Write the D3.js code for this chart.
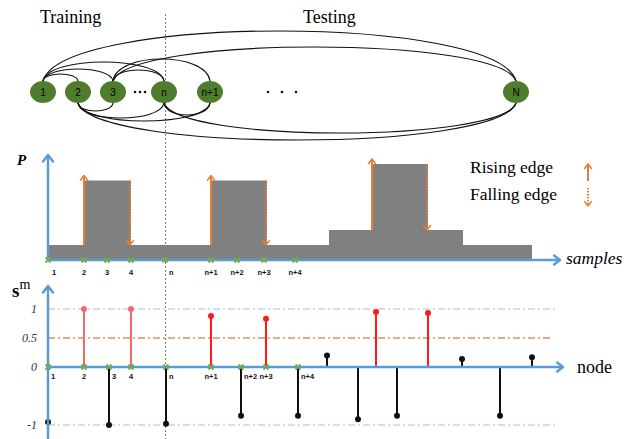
<!DOCTYPE html>
<html>
<head>
<meta charset="utf-8">
<script src="https://cdn.jsdelivr.net/npm/d3@7"></script>
<style>
  body { margin: 0; background: #fff; }
  svg { display: block; }
  .serif { font-family: "Liberation Serif", "DejaVu Serif", serif; }
  .sans { font-family: "Liberation Sans", Arial, sans-serif; }
</style>
</head>
<body>
<script>
// ---- data ----
// graph nodes, position along the sample axis
var nodeLabels = ["1", "2", "3", "n", "n+1", "N"];
var nodePos = [-1, 6, 13, 23.2, 32.4, 93.6];
// arcs [from, to, bulge] drawn above / below the nodes
var arcsAbove = [[0, 1, 7], [0, 2, 12], [0, 3, 19], [2, 3, 11], [2, 4, 22], [2, 5, 34], [0, 5, 50]];
var arcsBelow = [[1, 2, 8], [1, 3, 15], [1, 4, 18], [3, 4, 12], [3, 5, 30], [1, 5, 37]];
var gapDots = [18.4, 46.8];

// P panel
var sampleLabels = ["1", "2", "3", "4", "n", "n+1", "n+2", "n+3", "n+4"];
var sampleTicks = [0, 7.2, 11.8, 16.6, 23.4, 32.6, 37.8, 43.2, 49.4];
var stepEdges = [0, 7.2, 16.6, 32.6, 43.8, 56.2, 64.8, 76, 83, 96.8];
var stepLevels = [1, 5.3, 1, 5.3, 1, 2, 6.4, 2, 1];

// s^m panel
var stemPos = [0, 7.2, 12.2, 16.6, 23.6, 32.6, 38.6, 43.6, 50, 55.8, 62, 65.6, 69.8, 76, 82.8, 90.4, 96.8];
var stemVal = [-0.95, 1, -1, 1, -0.98, 0.88, -0.84, 0.83, -0.84, 0.2, -0.9, 0.95, -0.84, 0.93, 0.14, -0.84, 0.17];
var smTicks = [1, 0.5, 0, -1];
var dividerPos = 23.5;

// ---- drawing ----
var width = 636, height = 439;
var blue = "#5b9bd5", orange = "#ed7d31", green = "#4e7d2d", gray = "#808080";

var svg = d3.select("body").append("svg")
    .attr("width", width).attr("height", height);

var xs = d3.scaleLinear().domain([0, 100]).range([48, 548]);
var yP = d3.scaleLinear().domain([0, 7]).range([260, 155]);
var yS = d3.scaleLinear().domain([-1, 1]).range([425, 309]);

function chevron(g, x, y, dir, color, w, s) {
  // dir: -1 up, 1 down, 2 right
  var pts;
  if (dir === 2) pts = [[x - s * 1.3, y - s], [x, y], [x - s * 1.3, y + s]];
  else pts = [[x - s, y - dir * s * 1.3], [x, y], [x + s, y - dir * s * 1.3]];
  g.append("polyline").attr("points", pts.join(" "))
    .attr("fill", "none").attr("stroke", color).attr("stroke-width", w)
    .attr("stroke-linejoin", "round").attr("stroke-linecap", "round");
}

// divider
svg.append("line")
    .attr("x1", xs(dividerPos)).attr("x2", xs(dividerPos))
    .attr("y1", 14).attr("y2", height)
    .attr("stroke", "#777").attr("stroke-width", 1).attr("stroke-dasharray", "2,2");

// ---- top graph ----
var gTop = svg.append("g");
gTop.append("text").attr("class", "serif").attr("x", 40).attr("y", 23)
    .attr("font-size", 18).text("Training");
gTop.append("text").attr("class", "serif").attr("x", 303).attr("y", 23)
    .attr("font-size", 18).text("Testing");

var nodeY = 92, rx = 13, ry = 11;

function arcPath(a, side) {
  var x1 = xs(nodePos[a[0]]), x2 = xs(nodePos[a[1]]);
  var y0 = nodeY + side * ry;
  var k = a[2] / 0.75, d = x2 - x1;
  var p = d3.path();
  p.moveTo(x1, y0);
  p.bezierCurveTo(x1 + d * 0.04, y0 + side * k, x2 - d * 0.04, y0 + side * k, x2, y0);
  return p.toString();
}
gTop.selectAll("path.above").data(arcsAbove).enter().append("path")
    .attr("d", function (a) { return arcPath(a, -1); })
    .attr("fill", "none").attr("stroke", "#111").attr("stroke-width", 1.2);
gTop.selectAll("path.below").data(arcsBelow).enter().append("path")
    .attr("d", function (a) { return arcPath(a, 1); })
    .attr("fill", "none").attr("stroke", "#111").attr("stroke-width", 1.2);

gTop.selectAll("ellipse").data(nodePos).enter().append("ellipse")
    .attr("cx", function (d) { return xs(d); }).attr("cy", nodeY)
    .attr("rx", rx).attr("ry", ry).attr("fill", green);
gTop.selectAll("text.node").data(nodeLabels).enter().append("text")
    .attr("class", "sans")
    .attr("x", function (d, i) { return xs(nodePos[i]); }).attr("y", nodeY + 3.5)
    .attr("text-anchor", "middle").attr("font-size", 10).attr("fill", "#000")
    .text(function (d) { return d; });

gapDots.forEach(function (c, j) {
  var sp = j === 0 ? 5 : 14;
  [-1, 0, 1].forEach(function (o) {
    gTop.append("circle").attr("cx", xs(c) + o * sp).attr("cy", nodeY)
        .attr("r", 1.3).attr("fill", "#111");
  });
});

// ---- P panel ----
var pg = svg.append("g");
stepLevels.forEach(function (lv, i) {
  pg.append("rect")
      .attr("x", xs(stepEdges[i])).attr("y", yP(lv))
      .attr("width", xs(stepEdges[i + 1]) - xs(stepEdges[i]))
      .attr("height", yP(0) - yP(lv))
      .attr("fill", gray);
});

// edge arrows
for (var i = 1; i < stepLevels.length; i++) {
  var dl = stepLevels[i] - stepLevels[i - 1];
  if (Math.abs(dl) < 2) continue;
  var ex = xs(stepEdges[i]);
  if (dl > 0) {
    pg.append("line").attr("x1", ex).attr("x2", ex)
        .attr("y1", yP(stepLevels[i - 1])).attr("y2", yP(stepLevels[i]) - 5)
        .attr("stroke", orange).attr("stroke-width", 2);
    chevron(pg, ex, yP(stepLevels[i]) - 5, -1, orange, 1.6, 3.5);
  } else {
    pg.append("line").attr("x1", ex - 1).attr("x2", ex - 1)
        .attr("y1", yP(stepLevels[i - 1])).attr("y2", yP(stepLevels[i]))
        .attr("stroke", orange).attr("stroke-width", 2).attr("stroke-dasharray", "1.5,1.5");
    chevron(pg, ex - 1, yP(stepLevels[i]), 1, orange, 1.4, 3.5);
  }
}

// axes
pg.append("line").attr("x1", xs(0)).attr("x2", xs(0))
    .attr("y1", yP(0)).attr("y2", yP(7))
    .attr("stroke", blue).attr("stroke-width", 2.5);
chevron(pg, xs(0), yP(7), -1, blue, 2.5, 5);
pg.append("line").attr("x1", xs(0)).attr("x2", 560)
    .attr("y1", yP(0)).attr("y2", yP(0))
    .attr("stroke", blue).attr("stroke-width", 2.5);
chevron(pg, 560, yP(0), 2, blue, 2.5, 4.5);

pg.append("text").attr("class", "serif").attr("x", 17).attr("y", 165)
    .attr("font-size", 15).attr("font-style", "italic").attr("font-weight", "bold").text("P");
pg.append("text").attr("class", "serif").attr("x", 566).attr("y", 264)
    .attr("font-size", 17.5).attr("font-style", "italic").text("samples");

function crossMark(g, x, y) {
  g.append("path")
      .attr("d", "M" + (x - 2.5) + "," + (y - 2.5) + "L" + (x + 2.5) + "," + (y + 2.5) +
                 "M" + (x + 2.5) + "," + (y - 2.5) + "L" + (x - 2.5) + "," + (y + 2.5))
      .attr("stroke", "#70ad47").attr("stroke-width", 1.8);
}
sampleTicks.forEach(function (t, i) {
  crossMark(pg, xs(t), yP(0));
  var off = (i === 0 || i === 4);
  pg.append("text").attr("class", "sans")
      .attr("x", xs(t) + (off ? 4 : 0)).attr("y", 275)
      .attr("text-anchor", off ? "start" : "middle")
      .attr("font-size", 7.5).attr("font-weight", "bold").attr("fill", "#111")
      .text(sampleLabels[i]);
});

// legend
pg.append("text").attr("class", "serif").attr("x", 470).attr("y", 173)
    .attr("font-size", 17.5).text("Rising edge");
pg.append("text").attr("class", "serif").attr("x", 470).attr("y", 200)
    .attr("font-size", 17.5).text("Falling edge");
pg.append("line").attr("x1", 588).attr("x2", 588).attr("y1", 181).attr("y2", 164)
    .attr("stroke", orange).attr("stroke-width", 2);
chevron(pg, 588, 164, -1, orange, 1.6, 3.5);
pg.append("line").attr("x1", 588).attr("x2", 588).attr("y1", 188).attr("y2", 206)
    .attr("stroke", orange).attr("stroke-width", 2).attr("stroke-dasharray", "1.5,1.5");
chevron(pg, 588, 206, 1, orange, 1.4, 3.5);

// ---- s^m panel ----
var sg = svg.append("g");
[1, -1].forEach(function (v) {
  sg.append("line").attr("x1", xs(0)).attr("x2", 555)
      .attr("y1", yS(v)).attr("y2", yS(v))
      .attr("stroke", "#9dc3e6").attr("stroke-width", 1).attr("stroke-dasharray", "7,3,2,3");
});
sg.append("line").attr("x1", xs(0)).attr("x2", 553)
    .attr("y1", yS(0.5)).attr("y2", yS(0.5))
    .attr("stroke", "#c55a11").attr("stroke-width", 1).attr("stroke-dasharray", "7,3,2,3");

stemVal.forEach(function (v, i) {
  var x = xs(stemPos[i]);
  var col = v < 0.5 ? "#111" : (stemPos[i] < dividerPos ? "#f06a6a" : "#ff1a1a");
  sg.append("line").attr("x1", x).attr("x2", x)
      .attr("y1", yS(0)).attr("y2", yS(v))
      .attr("stroke", col).attr("stroke-width", 2);
  sg.append("circle").attr("cx", x).attr("cy", yS(v)).attr("r", 3).attr("fill", col);
});

sg.append("line").attr("x1", xs(0)).attr("x2", xs(0))
    .attr("y1", height).attr("y2", 286)
    .attr("stroke", blue).attr("stroke-width", 2.5);
chevron(sg, xs(0), 286, -1, blue, 2.5, 5);
sg.append("line").attr("x1", xs(0)).attr("x2", 563)
    .attr("y1", yS(0)).attr("y2", yS(0))
    .attr("stroke", blue).attr("stroke-width", 2.5);
chevron(sg, 563, yS(0), 2, blue, 2.5, 4.5);

sampleLabels.forEach(function (l, i) {
  var x = xs(stemPos[i]);
  crossMark(sg, x, yS(0));
  var neg = stemVal[i] < 0;
  sg.append("text").attr("class", "sans")
      .attr("x", neg ? x + 3 : x).attr("y", 379)
      .attr("text-anchor", neg ? "start" : "middle")
      .attr("font-size", 7.5).attr("font-weight", "bold").attr("fill", "#111")
      .text(l);
});

sg.selectAll("text.tick").data(smTicks).enter().append("text")
    .attr("class", "serif")
    .attr("x", 37).attr("y", function (d) { return yS(d) + 4; })
    .attr("text-anchor", "end").attr("font-size", 12).attr("font-style", "italic")
    .attr("fill", "#333")
    .text(function (d) { return String(d); });

var sm = sg.append("text").attr("class", "serif").attr("x", 12).attr("y", 297);
sm.append("tspan").attr("font-size", 19).attr("font-weight", "bold").text("s");
sm.append("tspan").attr("font-size", 14).attr("dy", -8).text("m");
sg.append("text").attr("class", "serif").attr("x", 577).attr("y", 373)
    .attr("font-size", 18).text("node");
</script>
</body>
</html>
